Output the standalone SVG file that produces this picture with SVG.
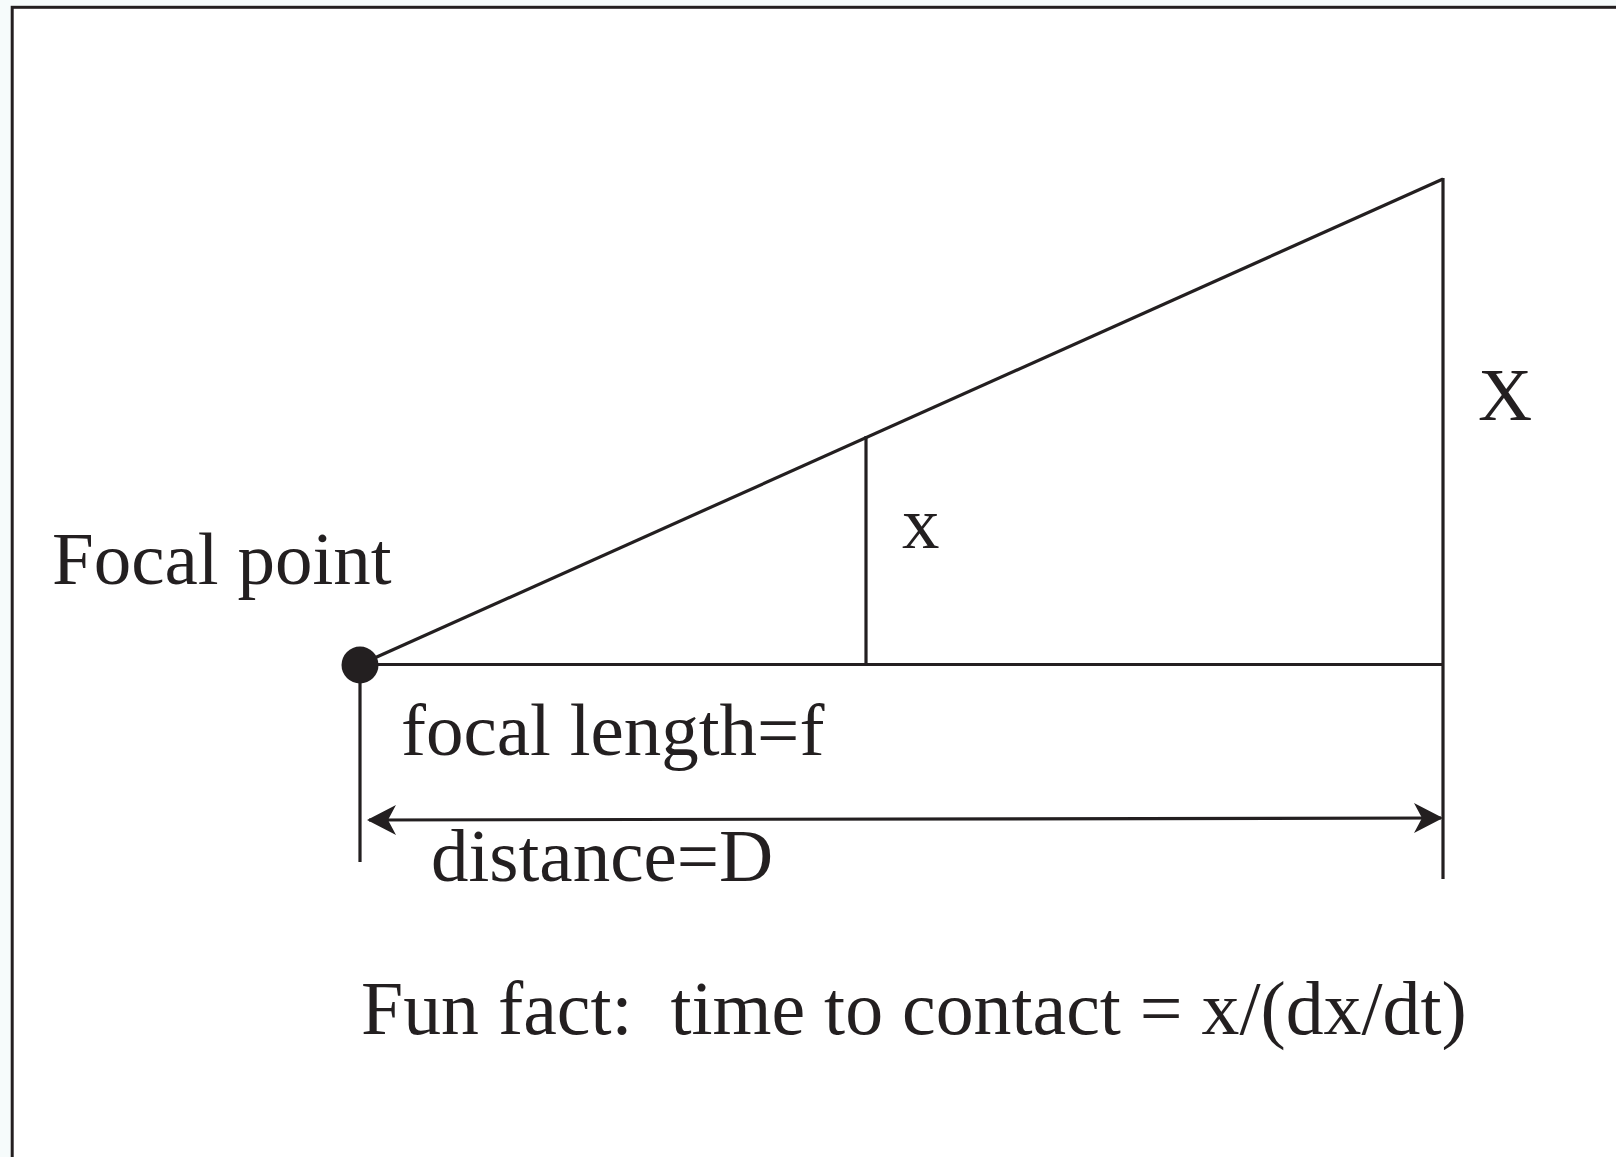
<svg xmlns="http://www.w3.org/2000/svg" width="1616" height="1157" viewBox="0 0 1616 1157">
<style>
.ln{stroke:#231f20;stroke-width:3.2;fill:none;stroke-linecap:butt}
.t{font-family:"Liberation Serif","Times New Roman",serif;font-size:75px;fill:#231f20}
</style>
<defs>
<marker id="arr" markerUnits="userSpaceOnUse" viewBox="-30 -20 40 40" markerWidth="40" markerHeight="40" refX="0" refY="0" orient="auto-start-reverse">
<path d="M2,0 L-27,-15 L-19,0 L-27,15 Z" fill="#231f20"/>
</marker>
</defs>
<rect x="0" y="0" width="1616" height="1157" fill="#f6fbfb"/>
<rect x="12.2" y="7.3" width="1700" height="1300" fill="#ffffff" stroke="#231f20" stroke-width="3"/>
<g id="connectors">
<line class="ln" x1="360" y1="664.5" x2="1443" y2="179"/>
<line class="ln" x1="360" y1="664.5" x2="1443" y2="664.5"/>
<line class="ln" x1="1443" y1="178" x2="1443" y2="879"/>
<line class="ln" x1="866" y1="436" x2="866" y2="664.5"/>
<line class="ln" x1="360" y1="664.5" x2="360" y2="862"/>
<line class="ln" x1="369" y1="820" x2="1441" y2="818" marker-start="url(#arr)" marker-end="url(#arr)"/>
</g>
<g id="focal-point">
<circle cx="360" cy="665" r="18.5" fill="#231f20"/>
<text class="t" x="52" y="584">Focal point</text>
</g>
<g id="label-x"><text class="t" x="902" y="548">x</text></g>
<g id="label-X"><text class="t" x="1478" y="420">X</text></g>
<g id="label-focal-length"><text class="t" x="401" y="755">focal length=f</text></g>
<g id="label-distance"><text class="t" x="431" y="881">distance=D</text></g>
<g id="fun-fact"><text class="t" x="361" y="1034" style="font-size:75.8px" xml:space="preserve">Fun fact:  time to contact = x/(dx/dt)</text></g>
</svg>
